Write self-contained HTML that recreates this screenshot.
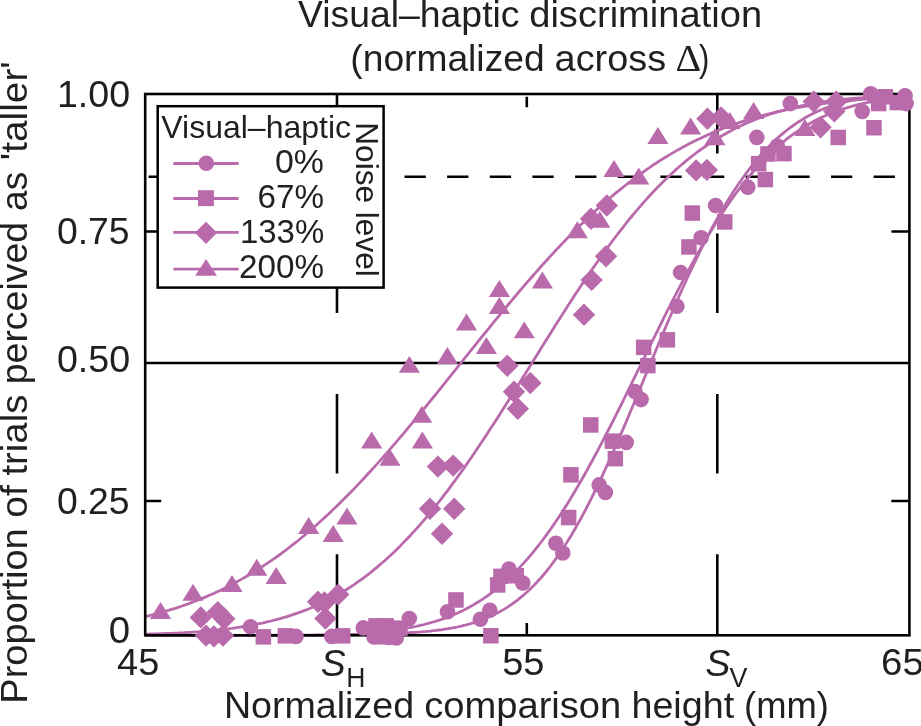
<!DOCTYPE html>
<html><head><meta charset="utf-8"><title>Visual-haptic discrimination</title>
<style>html,body{margin:0;padding:0;background:#fff;}body{width:921px;height:726px;overflow:hidden;}svg{display:block;will-change:transform;}text{font-family:"Liberation Sans",sans-serif;fill:#231f20;}.it{font-style:italic;}.sf{font-family:"Liberation Serif",serif;}</style></head><body>
<svg width="921" height="726" viewBox="0 0 921 726">
<rect width="921" height="726" fill="#fff"/>
<g stroke="#000" stroke-width="2.60" fill="none" stroke-linecap="butt">
<path d="M145.2 363 H909.4"/>
<path d="M148.6 176.7 H169.9 M191.2 176.7 H212.6 M233.9 176.7 H255.2 M276.6 176.7 H297.9 M319.2 176.7 H340.5 M361.8 176.7 H383.1 M404.5 176.7 H425.8 M447.1 176.7 H468.4 M489.8 176.7 H511.1 M532.4 176.7 H553.7 M575.1 176.7 H596.4 M617.7 176.7 H639.0 M660.4 176.7 H681.7 M703.0 176.7 H724.3 M745.7 176.7 H767.0 M788.3 176.7 H809.6 M831.0 176.7 H852.3 M873.6 176.7 H894.9"/>
<path d="M337.0 94.0 V153.6 M337.0 233.6 V313.0 M337.0 394.0 V473.6 M337.0 554.2 V635.2"/>
<path d="M717.3 94.0 V153.6 M717.3 233.6 V313.0 M717.3 394.0 V473.6 M717.3 554.2 V635.2"/>
<path d="M145.2 231.5 h16.0 M909.4 231.5 h-18.0"/>
<path d="M145.2 501.0 h16.0 M909.4 501.0 h-18.0"/>
<path d="M526.8 96.7 V107.2 M526.8 635.3 v-12.2"/>
</g>
<g stroke="#b96aab" stroke-width="2.80" fill="none" clip-path="url(#cp)">
<clipPath id="cp"><rect x="145.2" y="88.0" width="764.2" height="553.3"/></clipPath>
<path d="M145.2 616.6 L148.2 615.9 L151.2 615.2 L154.2 614.4 L157.2 613.6 L160.2 612.8 L163.2 611.9 L166.2 611.0 L169.2 610.1 L172.2 609.2 L175.2 608.3 L178.2 607.3 L181.2 606.3 L184.2 605.2 L187.2 604.2 L190.2 603.1 L193.2 601.9 L196.2 600.8 L199.2 599.6 L202.2 598.4 L205.2 597.1 L208.2 595.8 L211.2 594.5 L214.2 593.2 L217.2 591.8 L220.2 590.4 L223.2 588.9 L226.2 587.4 L229.2 585.9 L232.2 584.3 L235.2 582.7 L238.2 581.1 L241.2 579.4 L244.2 577.7 L247.2 576.0 L250.2 574.2 L253.2 572.4 L256.2 570.5 L259.2 568.6 L262.2 566.7 L265.2 564.7 L268.2 562.7 L271.2 560.7 L274.2 558.6 L277.2 556.5 L280.2 554.3 L283.2 552.1 L286.2 549.8 L289.2 547.5 L292.2 545.2 L295.2 542.9 L298.2 540.5 L301.2 538.0 L304.2 535.5 L307.2 533.0 L310.2 530.4 L313.2 527.8 L316.2 525.2 L319.2 522.5 L322.2 519.8 L325.2 517.1 L328.2 514.3 L331.2 511.4 L334.2 508.6 L337.2 505.7 L340.2 502.7 L343.2 499.8 L346.2 496.8 L349.2 493.7 L352.2 490.7 L355.2 487.6 L358.2 484.4 L361.2 481.2 L364.2 478.0 L367.2 474.8 L370.2 471.5 L373.2 468.2 L376.2 464.9 L379.2 461.6 L382.2 458.2 L385.2 454.8 L388.2 451.4 L391.2 447.9 L394.2 444.4 L397.2 440.9 L400.2 437.4 L403.2 433.9 L406.2 430.3 L409.2 426.7 L412.2 423.1 L415.2 419.5 L418.2 415.9 L421.2 412.2 L424.2 408.5 L427.2 404.9 L430.2 401.2 L433.2 397.5 L436.2 393.8 L439.2 390.1 L442.2 386.3 L445.2 382.6 L448.2 378.9 L451.2 375.1 L454.2 371.4 L457.2 367.6 L460.2 363.9 L463.2 360.1 L466.2 356.4 L469.2 352.6 L472.2 348.9 L475.2 345.2 L478.2 341.4 L481.2 337.7 L484.2 334.0 L487.2 330.3 L490.2 326.6 L493.2 322.9 L496.2 319.2 L499.2 315.6 L502.2 311.9 L505.2 308.3 L508.2 304.7 L511.2 301.1 L514.2 297.5 L517.2 294.0 L520.2 290.4 L523.2 286.9 L526.2 283.4 L529.2 280.0 L532.2 276.5 L535.2 273.1 L538.2 269.7 L541.2 266.3 L544.2 263.0 L547.2 259.7 L550.2 256.4 L553.2 253.2 L556.2 249.9 L559.2 246.7 L562.2 243.6 L565.2 240.5 L568.2 237.4 L571.2 234.3 L574.2 231.3 L577.2 228.3 L580.2 225.3 L583.2 222.4 L586.2 219.5 L589.2 216.7 L592.2 213.9 L595.2 211.1 L598.2 208.4 L601.2 205.7 L604.2 203.0 L607.2 200.4 L610.2 197.8 L613.2 195.2 L616.2 192.7 L619.2 190.3 L622.2 187.9 L625.2 185.5 L628.2 183.1 L631.2 180.8 L634.2 178.5 L637.2 176.3 L640.2 174.1 L643.2 172.0 L646.2 169.9 L649.2 167.8 L652.2 165.7 L655.2 163.7 L658.2 161.8 L661.2 159.9 L664.2 158.0 L667.2 156.2 L670.2 154.4 L673.2 152.6 L676.2 150.9 L679.2 149.2 L682.2 147.5 L685.2 145.9 L688.2 144.3 L691.2 142.8 L694.2 141.3 L697.2 139.8 L700.2 138.4 L703.2 136.9 L706.2 135.6 L709.2 134.2 L712.2 132.9 L715.2 131.7 L718.2 130.4 L721.2 129.2 L724.2 128.0 L727.2 126.9 L730.2 125.8 L733.2 124.7 L736.2 123.6 L739.2 122.6 L742.2 121.6 L745.2 120.6 L748.2 119.7 L751.2 118.8 L754.2 117.9 L757.2 117.0 L760.2 116.2 L763.2 115.4 L766.2 114.6 L769.2 113.8 L772.2 113.1 L775.2 112.4 L778.2 111.7 L781.2 111.0 L784.2 110.3 L787.2 109.7 L790.2 109.1 L793.2 108.5 L796.2 107.9 L799.2 107.4 L802.2 106.8 L805.2 106.3 L808.2 105.8 L811.2 105.3 L814.2 104.9 L817.2 104.4 L820.2 104.0 L823.2 103.6 L826.2 103.2 L829.2 102.8 L832.2 102.4 L835.2 102.1 L838.2 101.7 L841.2 101.4 L844.2 101.1 L847.2 100.7 L850.2 100.4 L853.2 100.2 L856.2 99.9 L859.2 99.6 L862.2 99.4 L865.2 99.1 L868.2 98.9 L871.2 98.7 L874.2 98.5 L877.2 98.2 L880.2 98.0 L883.2 97.9 L886.2 97.7 L889.2 97.5 L892.2 97.3 L895.2 97.2 L898.2 97.0 L901.2 96.9 L904.2 96.7 L907.2 96.6"/>
<path d="M145.2 634.2 L148.2 634.1 L151.2 634.0 L154.2 633.9 L157.2 633.9 L160.2 633.7 L163.2 633.6 L166.2 633.5 L169.2 633.4 L172.2 633.3 L175.2 633.1 L178.2 633.0 L181.2 632.8 L184.2 632.7 L187.2 632.5 L190.2 632.3 L193.2 632.1 L196.2 631.9 L199.2 631.7 L202.2 631.4 L205.2 631.2 L208.2 630.9 L211.2 630.6 L214.2 630.4 L217.2 630.1 L220.2 629.7 L223.2 629.4 L226.2 629.0 L229.2 628.7 L232.2 628.3 L235.2 627.8 L238.2 627.4 L241.2 627.0 L244.2 626.5 L247.2 626.0 L250.2 625.4 L253.2 624.9 L256.2 624.3 L259.2 623.7 L262.2 623.1 L265.2 622.4 L268.2 621.7 L271.2 621.0 L274.2 620.2 L277.2 619.4 L280.2 618.6 L283.2 617.7 L286.2 616.8 L289.2 615.9 L292.2 614.9 L295.2 613.9 L298.2 612.9 L301.2 611.8 L304.2 610.6 L307.2 609.5 L310.2 608.2 L313.2 607.0 L316.2 605.6 L319.2 604.3 L322.2 602.9 L325.2 601.4 L328.2 599.9 L331.2 598.3 L334.2 596.7 L337.2 595.0 L340.2 593.3 L343.2 591.5 L346.2 589.7 L349.2 587.8 L352.2 585.8 L355.2 583.8 L358.2 581.7 L361.2 579.6 L364.2 577.4 L367.2 575.1 L370.2 572.8 L373.2 570.4 L376.2 567.9 L379.2 565.4 L382.2 562.8 L385.2 560.2 L388.2 557.5 L391.2 554.7 L394.2 551.9 L397.2 548.9 L400.2 546.0 L403.2 542.9 L406.2 539.8 L409.2 536.7 L412.2 533.4 L415.2 530.1 L418.2 526.8 L421.2 523.3 L424.2 519.9 L427.2 516.3 L430.2 512.7 L433.2 509.0 L436.2 505.3 L439.2 501.5 L442.2 497.6 L445.2 493.7 L448.2 489.8 L451.2 485.7 L454.2 481.7 L457.2 477.5 L460.2 473.4 L463.2 469.1 L466.2 464.9 L469.2 460.5 L472.2 456.2 L475.2 451.8 L478.2 447.3 L481.2 442.8 L484.2 438.3 L487.2 433.7 L490.2 429.1 L493.2 424.5 L496.2 419.9 L499.2 415.2 L502.2 410.5 L505.2 405.7 L508.2 401.0 L511.2 396.2 L514.2 391.4 L517.2 386.6 L520.2 381.8 L523.2 377.0 L526.2 372.2 L529.2 367.4 L532.2 362.5 L535.2 357.7 L538.2 352.9 L541.2 348.1 L544.2 343.2 L547.2 338.4 L550.2 333.7 L553.2 328.9 L556.2 324.1 L559.2 319.4 L562.2 314.7 L565.2 310.0 L568.2 305.3 L571.2 300.7 L574.2 296.1 L577.2 291.5 L580.2 287.0 L583.2 282.5 L586.2 278.1 L589.2 273.7 L592.2 269.3 L595.2 265.0 L598.2 260.7 L601.2 256.4 L604.2 252.3 L607.2 248.1 L610.2 244.0 L613.2 240.0 L616.2 236.0 L619.2 232.1 L622.2 228.3 L625.2 224.5 L628.2 220.7 L631.2 217.0 L634.2 213.4 L637.2 209.9 L640.2 206.4 L643.2 202.9 L646.2 199.6 L649.2 196.3 L652.2 193.0 L655.2 189.8 L658.2 186.7 L661.2 183.7 L664.2 180.7 L667.2 177.8 L670.2 174.9 L673.2 172.2 L676.2 169.4 L679.2 166.8 L682.2 164.2 L685.2 161.7 L688.2 159.2 L691.2 156.8 L694.2 154.5 L697.2 152.2 L700.2 150.0 L703.2 147.9 L706.2 145.8 L709.2 143.7 L712.2 141.8 L715.2 139.9 L718.2 138.0 L721.2 136.2 L724.2 134.5 L727.2 132.8 L730.2 131.2 L733.2 129.6 L736.2 128.1 L739.2 126.6 L742.2 125.2 L745.2 123.8 L748.2 122.5 L751.2 121.2 L754.2 120.0 L757.2 118.8 L760.2 117.7 L763.2 116.6 L766.2 115.5 L769.2 114.5 L772.2 113.5 L775.2 112.6 L778.2 111.7 L781.2 110.8 L784.2 110.0 L787.2 109.2 L790.2 108.4 L793.2 107.7 L796.2 107.0 L799.2 106.3 L802.2 105.7 L805.2 105.1 L808.2 104.5 L811.2 103.9 L814.2 103.4 L817.2 102.9 L820.2 102.4 L823.2 101.9 L826.2 101.5 L829.2 101.1 L832.2 100.7 L835.2 100.3 L838.2 99.9 L841.2 99.6 L844.2 99.3 L847.2 99.0 L850.2 98.7 L853.2 98.4 L856.2 98.1 L859.2 97.9 L862.2 97.7 L865.2 97.4 L868.2 97.2 L871.2 97.0 L874.2 96.8 L877.2 96.7 L880.2 96.5 L883.2 96.3 L886.2 96.2 L889.2 96.0 L892.2 95.9 L895.2 95.8 L898.2 95.7 L901.2 95.6 L904.2 95.5 L907.2 95.4"/>
<path d="M145.2 635.3 L148.2 635.3 L151.2 635.3 L154.2 635.3 L157.2 635.3 L160.2 635.3 L163.2 635.3 L166.2 635.3 L169.2 635.3 L172.2 635.3 L175.2 635.3 L178.2 635.3 L181.2 635.3 L184.2 635.3 L187.2 635.3 L190.2 635.3 L193.2 635.3 L196.2 635.3 L199.2 635.3 L202.2 635.3 L205.2 635.3 L208.2 635.3 L211.2 635.3 L214.2 635.3 L217.2 635.3 L220.2 635.3 L223.2 635.3 L226.2 635.3 L229.2 635.3 L232.2 635.3 L235.2 635.3 L238.2 635.3 L241.2 635.3 L244.2 635.3 L247.2 635.3 L250.2 635.3 L253.2 635.3 L256.2 635.3 L259.2 635.3 L262.2 635.3 L265.2 635.3 L268.2 635.3 L271.2 635.3 L274.2 635.3 L277.2 635.3 L280.2 635.3 L283.2 635.3 L286.2 635.3 L289.2 635.3 L292.2 635.3 L295.2 635.3 L298.2 635.3 L301.2 635.3 L304.2 635.3 L307.2 635.3 L310.2 635.3 L313.2 635.3 L316.2 635.3 L319.2 635.2 L322.2 635.2 L325.2 635.2 L328.2 635.2 L331.2 635.1 L334.2 635.1 L337.2 635.0 L340.2 635.0 L343.2 634.9 L346.2 634.8 L349.2 634.7 L352.2 634.6 L355.2 634.4 L358.2 634.3 L361.2 634.1 L364.2 633.9 L367.2 633.6 L370.2 633.4 L373.2 633.1 L376.2 632.8 L379.2 632.4 L382.2 632.0 L385.2 631.6 L388.2 631.2 L391.2 630.8 L394.2 630.3 L397.2 629.8 L400.2 629.3 L403.2 628.8 L406.2 628.2 L409.2 627.7 L412.2 627.1 L415.2 626.5 L418.2 625.9 L421.2 625.2 L424.2 624.5 L427.2 623.7 L430.2 622.9 L433.2 622.0 L436.2 621.1 L439.2 620.2 L442.2 619.1 L445.2 618.1 L448.2 616.9 L451.2 615.8 L454.2 614.5 L457.2 613.2 L460.2 611.8 L463.2 610.4 L466.2 608.8 L469.2 607.2 L472.2 605.6 L475.2 603.8 L478.2 602.0 L481.2 600.1 L484.2 598.1 L487.2 596.0 L490.2 593.8 L493.2 591.6 L496.2 589.2 L499.2 586.8 L502.2 584.2 L505.2 581.6 L508.2 578.8 L511.2 576.0 L514.2 573.1 L517.2 570.0 L520.2 566.9 L523.2 563.6 L526.2 560.3 L529.2 556.8 L532.2 553.3 L535.2 549.6 L538.2 545.8 L541.2 542.0 L544.2 538.0 L547.2 533.9 L550.2 529.7 L553.2 525.4 L556.2 521.0 L559.2 516.5 L562.2 511.9 L565.2 507.2 L568.2 502.4 L571.2 497.5 L574.2 492.5 L577.2 487.4 L580.2 482.3 L583.2 477.0 L586.2 471.7 L589.2 466.3 L592.2 460.8 L595.2 455.2 L598.2 449.6 L601.2 443.9 L604.2 438.2 L607.2 432.4 L610.2 426.5 L613.2 420.6 L616.2 414.6 L619.2 408.6 L622.2 402.6 L625.2 396.5 L628.2 390.5 L631.2 384.4 L634.2 378.2 L637.2 372.1 L640.2 366.0 L643.2 359.8 L646.2 353.7 L649.2 347.5 L652.2 341.4 L655.2 335.3 L658.2 329.3 L661.2 323.2 L664.2 317.2 L667.2 311.2 L670.2 305.3 L673.2 299.4 L676.2 293.6 L679.2 287.8 L682.2 282.1 L685.2 276.4 L688.2 270.8 L691.2 265.3 L694.2 259.9 L697.2 254.5 L700.2 249.2 L703.2 244.0 L706.2 238.9 L709.2 233.9 L712.2 229.0 L715.2 224.1 L718.2 219.4 L721.2 214.7 L724.2 210.2 L727.2 205.8 L730.2 201.4 L733.2 197.2 L736.2 193.0 L739.2 189.0 L742.2 185.1 L745.2 181.3 L748.2 177.6 L751.2 174.0 L754.2 170.5 L757.2 167.1 L760.2 163.8 L763.2 160.6 L766.2 157.5 L769.2 154.5 L772.2 151.6 L775.2 148.9 L778.2 146.2 L781.2 143.6 L784.2 141.1 L787.2 138.7 L790.2 136.4 L793.2 134.2 L796.2 132.1 L799.2 130.1 L802.2 128.1 L805.2 126.3 L808.2 124.5 L811.2 122.8 L814.2 121.1 L817.2 119.6 L820.2 118.1 L823.2 116.7 L826.2 115.3 L829.2 114.1 L832.2 112.9 L835.2 111.7 L838.2 110.6 L841.2 109.6 L844.2 108.6 L847.2 107.6 L850.2 106.8 L853.2 105.9 L856.2 105.1 L859.2 104.4 L862.2 103.7 L865.2 103.0 L868.2 102.4 L871.2 101.8 L874.2 101.3 L877.2 100.8 L880.2 100.3 L883.2 99.8 L886.2 99.4 L889.2 99.0 L892.2 98.6 L895.2 98.3 L898.2 98.0 L901.2 97.7 L904.2 97.4 L907.2 97.1"/>
<path d="M145.2 635.3 L148.2 635.3 L151.2 635.3 L154.2 635.3 L157.2 635.3 L160.2 635.3 L163.2 635.3 L166.2 635.3 L169.2 635.3 L172.2 635.3 L175.2 635.3 L178.2 635.3 L181.2 635.3 L184.2 635.3 L187.2 635.3 L190.2 635.3 L193.2 635.3 L196.2 635.3 L199.2 635.3 L202.2 635.3 L205.2 635.3 L208.2 635.3 L211.2 635.3 L214.2 635.3 L217.2 635.3 L220.2 635.3 L223.2 635.3 L226.2 635.3 L229.2 635.3 L232.2 635.3 L235.2 635.3 L238.2 635.3 L241.2 635.3 L244.2 635.3 L247.2 635.3 L250.2 635.3 L253.2 635.3 L256.2 635.3 L259.2 635.3 L262.2 635.2 L265.2 635.2 L268.2 635.2 L271.2 635.2 L274.2 635.2 L277.2 635.2 L280.2 635.2 L283.2 635.2 L286.2 635.2 L289.2 635.2 L292.2 635.2 L295.2 635.2 L298.2 635.1 L301.2 635.1 L304.2 635.1 L307.2 635.1 L310.2 635.1 L313.2 635.1 L316.2 635.0 L319.2 635.0 L322.2 635.0 L325.2 635.0 L328.2 634.9 L331.2 634.9 L334.2 634.9 L337.2 634.9 L340.2 634.8 L343.2 634.8 L346.2 634.7 L349.2 634.7 L352.2 634.6 L355.2 634.6 L358.2 634.5 L361.2 634.5 L364.2 634.4 L367.2 634.3 L370.2 634.3 L373.2 634.2 L376.2 634.1 L379.2 634.0 L382.2 633.9 L385.2 633.8 L388.2 633.7 L391.2 633.6 L394.2 633.5 L397.2 633.3 L400.2 633.2 L403.2 633.1 L406.2 632.9 L409.2 632.7 L412.2 632.5 L415.2 632.3 L418.2 632.1 L421.2 631.9 L424.2 631.6 L427.2 631.4 L430.2 631.1 L433.2 630.7 L436.2 630.4 L439.2 630.0 L442.2 629.6 L445.2 629.1 L448.2 628.7 L451.2 628.1 L454.2 627.6 L457.2 627.0 L460.2 626.3 L463.2 625.6 L466.2 624.9 L469.2 624.1 L472.2 623.2 L475.2 622.3 L478.2 621.3 L481.2 620.2 L484.2 619.0 L487.2 617.8 L490.2 616.5 L493.2 615.1 L496.2 613.6 L499.2 612.0 L502.2 610.4 L505.2 608.6 L508.2 606.7 L511.2 604.7 L514.2 602.5 L517.2 600.3 L520.2 597.9 L523.2 595.4 L526.2 592.8 L529.2 590.0 L532.2 587.1 L535.2 584.0 L538.2 580.8 L541.2 577.5 L544.2 574.0 L547.2 570.3 L550.2 566.5 L553.2 562.5 L556.2 558.4 L559.2 554.1 L562.2 549.7 L565.2 545.0 L568.2 540.3 L571.2 535.4 L574.2 530.3 L577.2 525.1 L580.2 519.7 L583.2 514.2 L586.2 508.5 L589.2 502.7 L592.2 496.7 L595.2 490.7 L598.2 484.5 L601.2 478.2 L604.2 471.7 L607.2 465.2 L610.2 458.5 L613.2 451.8 L616.2 445.0 L619.2 438.1 L622.2 431.1 L625.2 424.1 L628.2 417.0 L631.2 409.8 L634.2 402.7 L637.2 395.4 L640.2 388.2 L643.2 381.0 L646.2 373.7 L649.2 366.5 L652.2 359.2 L655.2 352.0 L658.2 344.8 L661.2 337.7 L664.2 330.6 L667.2 323.5 L670.2 316.5 L673.2 309.6 L676.2 302.7 L679.2 295.9 L682.2 289.2 L685.2 282.6 L688.2 276.0 L691.2 269.6 L694.2 263.3 L697.2 257.1 L700.2 251.0 L703.2 245.0 L706.2 239.1 L709.2 233.3 L712.2 227.7 L715.2 222.2 L718.2 216.9 L721.2 211.6 L724.2 206.5 L727.2 201.6 L730.2 196.7 L733.2 192.0 L736.2 187.5 L739.2 183.0 L742.2 178.7 L745.2 174.6 L748.2 170.6 L751.2 166.7 L754.2 162.9 L757.2 159.3 L760.2 155.8 L763.2 152.5 L766.2 149.2 L769.2 146.1 L772.2 143.1 L775.2 140.3 L778.2 137.5 L781.2 134.9 L784.2 132.4 L787.2 130.0 L790.2 127.7 L793.2 125.5 L796.2 123.4 L799.2 121.5 L802.2 119.6 L805.2 117.8 L808.2 116.1 L811.2 114.5 L814.2 113.0 L817.2 111.6 L820.2 110.2 L823.2 109.0 L826.2 107.8 L829.2 106.7 L832.2 105.6 L835.2 104.6 L838.2 103.7 L841.2 102.9 L844.2 102.1 L847.2 101.4 L850.2 100.7 L853.2 100.1 L856.2 99.6 L859.2 99.0 L862.2 98.6 L865.2 98.1 L868.2 97.7 L871.2 97.4 L874.2 97.0 L877.2 96.7 L880.2 96.5 L883.2 96.2 L886.2 96.0 L889.2 95.8 L892.2 95.6 L895.2 95.4 L898.2 95.3 L901.2 95.1 L904.2 95.0 L907.2 94.9"/>
</g>
<rect x="145.2" y="94.0" width="764.2" height="541.3" fill="none" stroke="#000" stroke-width="2.60"/>
<g fill="#b96aab" stroke="none">
<path d="M149.9 619.0 L171.1 619.0 L160.5 602.0Z"/>
<path d="M182.4 600.8 L203.6 600.8 L193.0 583.8Z"/>
<path d="M221.4 592.0 L242.6 592.0 L232.0 575.0Z"/>
<path d="M246.1 575.8 L267.3 575.8 L256.7 558.8Z"/>
<path d="M265.6 584.0 L286.8 584.0 L276.2 567.0Z"/>
<path d="M298.1 534.0 L319.3 534.0 L308.7 517.0Z"/>
<path d="M322.6 542.0 L343.8 542.0 L333.2 525.0Z"/>
<path d="M336.4 524.5 L357.6 524.5 L347.0 507.6Z"/>
<path d="M361.1 448.4 L382.3 448.4 L371.7 431.5Z"/>
<path d="M379.4 465.8 L400.6 465.8 L390.0 448.9Z"/>
<path d="M398.8 372.8 L420.0 372.8 L409.4 355.9Z"/>
<path d="M411.1 422.8 L432.3 422.8 L421.7 405.9Z"/>
<path d="M411.8 448.4 L433.0 448.4 L422.4 431.5Z"/>
<path d="M436.8 363.9 L458.0 363.9 L447.4 347.1Z"/>
<path d="M455.9 330.4 L477.1 330.4 L466.5 313.5Z"/>
<path d="M475.8 353.9 L497.0 353.9 L486.4 337.1Z"/>
<path d="M488.8 296.9 L510.0 296.9 L499.4 280.0Z"/>
<path d="M488.8 313.9 L510.0 313.9 L499.4 297.0Z"/>
<path d="M513.7 338.2 L534.9 338.2 L524.3 321.4Z"/>
<path d="M531.8 288.4 L553.0 288.4 L542.4 271.5Z"/>
<path d="M566.7 238.2 L587.9 238.2 L577.3 221.3Z"/>
<path d="M589.2 227.8 L610.4 227.8 L599.8 210.9Z"/>
<path d="M603.4 176.9 L624.6 176.9 L614.0 160.1Z"/>
<path d="M628.1 184.4 L649.3 184.4 L638.7 167.6Z"/>
<path d="M647.3 143.9 L668.5 143.9 L657.9 127.0Z"/>
<path d="M680.0 134.4 L701.2 134.4 L690.6 117.5Z"/>
<path d="M704.3 145.2 L725.5 145.2 L714.9 128.3Z"/>
<path d="M719.2 128.9 L740.4 128.9 L729.8 112.0Z"/>
<path d="M743.0 119.0 L764.2 119.0 L753.6 102.0Z"/>
<path d="M794.3 135.9 L815.5 135.9 L804.9 119.0Z"/>
<path d="M189.6 617.4 L200.8 606.2 L212.0 617.4 L200.8 628.6Z"/>
<path d="M206.6 612.1 L217.8 600.9 L229.0 612.1 L217.8 623.3Z"/>
<path d="M213.1 618.7 L224.3 607.5 L235.5 618.7 L224.3 629.9Z"/>
<path d="M194.8 635.6 L206.0 624.4 L217.2 635.6 L206.0 646.8Z"/>
<path d="M202.7 636.4 L213.9 625.2 L225.1 636.4 L213.9 647.6Z"/>
<path d="M211.8 635.6 L223.0 624.4 L234.2 635.6 L223.0 646.8Z"/>
<path d="M306.8 601.7 L318.0 590.5 L329.2 601.7 L318.0 612.9Z"/>
<path d="M313.3 602.5 L324.5 591.3 L335.7 602.5 L324.5 613.7Z"/>
<path d="M327.0 594.6 L338.2 583.4 L349.4 594.6 L338.2 605.8Z"/>
<path d="M314.2 618.5 L325.4 607.3 L336.6 618.5 L325.4 629.7Z"/>
<path d="M418.8 508.7 L430.0 497.5 L441.2 508.7 L430.0 519.9Z"/>
<path d="M443.0 508.7 L454.2 497.5 L465.4 508.7 L454.2 519.9Z"/>
<path d="M430.8 533.7 L442.0 522.5 L453.2 533.7 L442.0 544.9Z"/>
<path d="M426.7 466.6 L437.9 455.4 L449.1 466.6 L437.9 477.8Z"/>
<path d="M441.9 465.6 L453.1 454.4 L464.3 465.6 L453.1 476.8Z"/>
<path d="M496.1 365.7 L507.3 354.5 L518.5 365.7 L507.3 376.9Z"/>
<path d="M519.1 383.0 L530.3 371.8 L541.5 383.0 L530.3 394.2Z"/>
<path d="M502.8 391.7 L514.0 380.5 L525.2 391.7 L514.0 402.9Z"/>
<path d="M506.6 408.7 L517.8 397.5 L529.0 408.7 L517.8 419.9Z"/>
<path d="M595.6 205.5 L606.8 194.3 L618.0 205.5 L606.8 216.7Z"/>
<path d="M579.8 218.7 L591.0 207.5 L602.2 218.7 L591.0 229.9Z"/>
<path d="M594.8 256.2 L606.0 245.0 L617.2 256.2 L606.0 267.4Z"/>
<path d="M580.4 279.9 L591.6 268.7 L602.8 279.9 L591.6 291.1Z"/>
<path d="M572.8 314.8 L584.0 303.6 L595.2 314.8 L584.0 326.0Z"/>
<path d="M696.2 118.7 L707.4 107.5 L718.6 118.7 L707.4 129.9Z"/>
<path d="M709.9 117.5 L721.1 106.3 L732.3 117.5 L721.1 128.7Z"/>
<path d="M684.9 170.4 L696.1 159.2 L707.3 170.4 L696.1 181.6Z"/>
<path d="M695.7 169.9 L706.9 158.7 L718.1 169.9 L706.9 181.1Z"/>
<path d="M802.5 101.6 L813.7 90.4 L824.9 101.6 L813.7 112.8Z"/>
<path d="M825.1 101.6 L836.3 90.4 L847.5 101.6 L836.3 112.8Z"/>
<path d="M823.1 111.4 L834.3 100.2 L845.5 111.4 L834.3 122.6Z"/>
<path d="M809.4 127.2 L820.6 116.0 L831.8 127.2 L820.6 138.4Z"/>
<rect x="255.6" y="629.1" width="15.5" height="15.5"/>
<rect x="277.6" y="628.1" width="15.5" height="15.5"/>
<rect x="334.9" y="628.1" width="15.5" height="15.5"/>
<rect x="368.2" y="618.1" width="15.5" height="15.5"/>
<rect x="378.4" y="618.1" width="15.5" height="15.5"/>
<rect x="373.8" y="629.0" width="15.5" height="15.5"/>
<rect x="392.2" y="620.4" width="15.5" height="15.5"/>
<rect x="448.2" y="592.2" width="15.5" height="15.5"/>
<rect x="489.9" y="577.2" width="15.5" height="15.5"/>
<rect x="493.2" y="568.6" width="15.5" height="15.5"/>
<rect x="508.5" y="568.0" width="15.5" height="15.5"/>
<rect x="483.1" y="628.0" width="15.5" height="15.5"/>
<rect x="560.9" y="509.8" width="15.5" height="15.5"/>
<rect x="563.2" y="467.1" width="15.5" height="15.5"/>
<rect x="583.0" y="417.2" width="15.5" height="15.5"/>
<rect x="604.6" y="433.4" width="15.5" height="15.5"/>
<rect x="607.6" y="450.9" width="15.5" height="15.5"/>
<rect x="635.9" y="339.6" width="15.5" height="15.5"/>
<rect x="659.6" y="332.1" width="15.5" height="15.5"/>
<rect x="640.1" y="357.9" width="15.5" height="15.5"/>
<rect x="681.2" y="239.2" width="15.5" height="15.5"/>
<rect x="684.6" y="205.3" width="15.5" height="15.5"/>
<rect x="717.0" y="214.2" width="15.5" height="15.5"/>
<rect x="750.9" y="155.9" width="15.5" height="15.5"/>
<rect x="757.6" y="171.8" width="15.5" height="15.5"/>
<rect x="760.2" y="146.2" width="15.5" height="15.5"/>
<rect x="776.2" y="145.9" width="15.5" height="15.5"/>
<rect x="830.5" y="129.7" width="15.5" height="15.5"/>
<rect x="866.2" y="120.0" width="15.5" height="15.5"/>
<rect x="877.6" y="89.0" width="15.5" height="15.5"/>
<rect x="870.9" y="95.8" width="15.5" height="15.5"/>
<rect x="889.5" y="94.8" width="15.5" height="15.5"/>
<circle cx="250.5" cy="626.7" r="7.8"/>
<circle cx="296.0" cy="636.4" r="7.8"/>
<circle cx="331.7" cy="636.4" r="7.8"/>
<circle cx="363.3" cy="627.9" r="7.8"/>
<circle cx="374.0" cy="637.0" r="7.8"/>
<circle cx="389.0" cy="637.5" r="7.8"/>
<circle cx="396.3" cy="637.9" r="7.8"/>
<circle cx="409.3" cy="618.5" r="7.8"/>
<circle cx="447.5" cy="611.7" r="7.8"/>
<circle cx="489.8" cy="610.3" r="7.8"/>
<circle cx="480.4" cy="619.3" r="7.8"/>
<circle cx="509.0" cy="569.0" r="7.8"/>
<circle cx="522.8" cy="583.0" r="7.8"/>
<circle cx="555.8" cy="543.2" r="7.8"/>
<circle cx="562.8" cy="553.0" r="7.8"/>
<circle cx="599.2" cy="484.9" r="7.8"/>
<circle cx="605.4" cy="492.4" r="7.8"/>
<circle cx="626.2" cy="442.4" r="7.8"/>
<circle cx="634.9" cy="391.5" r="7.8"/>
<circle cx="641.1" cy="399.6" r="7.8"/>
<circle cx="676.9" cy="306.2" r="7.8"/>
<circle cx="680.6" cy="272.5" r="7.8"/>
<circle cx="701.1" cy="237.8" r="7.8"/>
<circle cx="715.6" cy="205.6" r="7.8"/>
<circle cx="747.8" cy="187.3" r="7.8"/>
<circle cx="756.8" cy="137.4" r="7.8"/>
<circle cx="777.3" cy="146.0" r="7.8"/>
<circle cx="790.3" cy="103.6" r="7.8"/>
<circle cx="862.2" cy="111.4" r="7.8"/>
<circle cx="870.7" cy="93.8" r="7.8"/>
<circle cx="905.1" cy="95.7" r="7.8"/>
<circle cx="906.1" cy="103.6" r="7.8"/>
</g>
<rect x="157.7" y="106.2" width="225.9" height="181.4" fill="#fff" stroke="#000" stroke-width="2.5"/>
<g stroke="#b96aab" stroke-width="2.80">
<path d="M173.4 163.5 H238.7"/>
<path d="M173.4 198.5 H238.7"/>
<path d="M173.4 232.4 H238.7"/>
<path d="M173.4 269.1 H238.7"/>
</g>
<g fill="#b96aab">
<circle cx="206.3" cy="163.2" r="7.8"/>
<rect x="198.0" y="190.2" width="15.9" height="15.9"/>
<path d="M194.9 232.8 L206.0 221.7 L217.1 232.8 L206.0 243.9Z"/>
<path d="M195.2 275.8 L216.9 275.8 L206.1 258.9Z"/>
</g>
<text id="t1a" transform="translate(297.98 26.65) scale(0.9963 1)" font-size="37.50">Visual–haptic</text>
<text id="t1b" transform="translate(529.20 26.65) scale(1.0161 1)" font-size="37.50">discrimination</text>
<text id="t2a" transform="translate(350.36 71.40) scale(0.9918 1)" font-size="37.50">(normalized</text>
<text id="t2b" transform="translate(554.58 71.40) scale(1.0100 1)" font-size="37.50">across</text>
<text id="t2c" class="sf" transform="translate(675.41 71.40) scale(1.0528 1)" font-size="37.90">Δ</text>
<text id="t2d" transform="translate(698.88 71.40) scale(0.8294 1)" font-size="37.50">)</text>
<text id="y100" transform="translate(56.95 106.70) scale(0.9950 1)" font-size="37.80">1.00</text>
<text id="y075" transform="translate(56.89 243.70) scale(0.9891 1)" font-size="37.80">0.75</text>
<text id="y050" transform="translate(56.88 371.70) scale(0.9959 1)" font-size="37.80">0.50</text>
<text id="y025" transform="translate(56.89 513.50) scale(0.9891 1)" font-size="37.80">0.25</text>
<text id="y0" transform="translate(108.75 643.10) scale(1.0153 1)" font-size="37.80">0</text>
<text id="x45" transform="translate(117.05 674.80) scale(1.0067 1)" font-size="37.80">45</text>
<text id="x55" transform="translate(502.17 674.80) scale(1.0063 1)" font-size="37.80">55</text>
<text id="x65" transform="translate(881.05 674.80) scale(1.0166 1)" font-size="37.80">65</text>
<text id="sh" class="it" transform="translate(320.80 675.80) scale(0.9905 1)" font-size="37.80">S</text>
<text id="shh" transform="translate(346.17 686.70) scale(0.9899 1)" font-size="26.80">H</text>
<text id="sv" class="it" transform="translate(705.19 675.80) scale(0.9994 1)" font-size="37.80">S</text>
<text id="svv" transform="translate(729.49 686.70) scale(1.0012 1)" font-size="26.80">V</text>
<text id="xla" transform="translate(223.90 717.60) scale(1.0031 1)" font-size="37.50">Normalized</text>
<text id="xlb" transform="translate(424.19 717.60) scale(1.0170 1)" font-size="37.50">comparison</text>
<text id="xlc" transform="translate(631.46 717.60) scale(1.0051 1)" font-size="37.50">height</text>
<text id="xld" transform="translate(744.12 717.60) scale(0.9709 1)" font-size="37.50">(mm)</text>
<text id="yla" transform="translate(26.90 700.70) rotate(-90) translate(-2.93 0) scale(1.0134 1)" font-size="37.50">Proportion</text>
<text id="ylb" transform="translate(26.90 515.90) rotate(-90) translate(-1.84 0) scale(1.0385 1)" font-size="37.50">of</text>
<text id="ylc" transform="translate(26.90 475.00) rotate(-90) translate(-0.61 0) scale(1.0223 1)" font-size="37.50">trials</text>
<text id="yld" transform="translate(26.90 381.70) rotate(-90) translate(-2.56 0) scale(0.9990 1)" font-size="37.50">perceived</text>
<text id="yle" transform="translate(26.90 209.10) rotate(-90) translate(-1.78 0) scale(0.9882 1)" font-size="37.50">as</text>
<text id="ylf" transform="translate(26.90 158.20) rotate(-90) translate(-1.96 0) scale(1.0344 1)" font-size="37.50">'taller'</text>
<text id="lg0" transform="translate(161.27 137.70) scale(1.0164 1)" font-size="31.50">Visual–haptic</text>
<text id="lg1" transform="translate(275.03 173.00) scale(1.0393 1)" font-size="32.60">0%</text>
<text id="lg2" transform="translate(257.45 208.10) scale(1.0205 1)" font-size="32.60">67%</text>
<text id="lg3" transform="translate(239.97 242.70) scale(1.0097 1)" font-size="32.60">133%</text>
<text id="lg4" transform="translate(239.06 278.00) scale(1.0208 1)" font-size="32.60">200%</text>
<text id="nl" transform="translate(356.10 124.90) rotate(90) translate(-2.62 0) scale(0.9876 1)" font-size="32.00">Noise level</text>
</svg></body></html>
